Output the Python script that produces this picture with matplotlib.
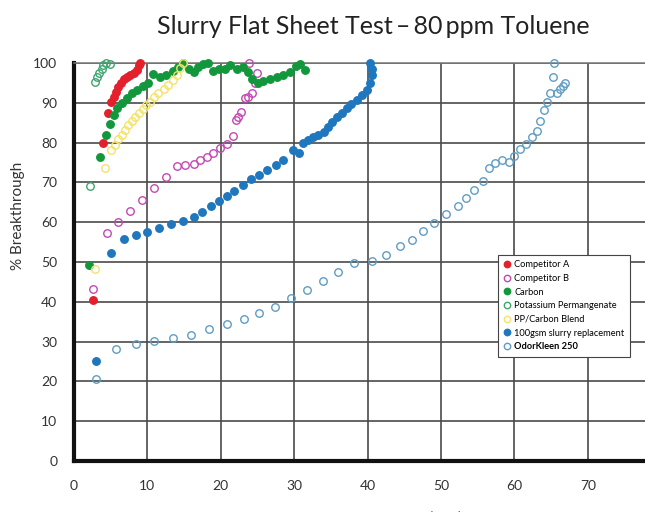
import matplotlib
matplotlib.use("Agg")
import matplotlib.pyplot as plt

plt.rcParams['font.family'] = ['Lato', 'DejaVu Sans']

# readings: x = time, y = % breakthrough
comp_a_x = [2.6, 4.0, 4.7, 5.0, 5.4, 5.7, 6.0, 6.4, 6.8, 7.2, 7.6, 8.2, 8.6, 8.9, 9.0]
comp_a_y = [40.4, 79.8, 87.4, 90.3, 91.5, 92.8, 93.9, 94.9, 95.9, 96.6, 97.0, 97.4, 98.2, 99.5, 100.0]

comp_b_x = [2.6, 4.45, 6.0, 7.6, 9.2, 10.9, 12.5, 14.1, 15.1, 16.3, 17.2, 18.1, 19.0, 19.9,
            20.8, 21.7, 22.1, 22.4, 22.8, 23.3, 23.7, 24.2, 24.7, 24.9, 23.9]
comp_b_y = [43.1, 57.3, 60.0, 62.8, 65.7, 68.7, 71.4, 74.2, 74.4, 74.6, 75.6, 76.5, 77.3, 78.6,
            79.6, 81.7, 85.7, 86.5, 87.8, 91.1, 91.5, 92.4, 94.9, 97.4, 99.9]

carbon_x = [2.1, 3.5, 4.4, 4.9, 5.4, 5.9, 6.5, 7.2, 7.9, 8.6, 9.4, 10.1, 10.8, 11.7, 12.6, 13.5,
            14.2, 14.9, 15.6, 16.3, 16.9, 17.6, 18.3, 19.0, 19.8, 20.6, 21.3, 22.2, 23.0, 23.7,
            24.3, 25.0, 25.8, 26.7, 27.6, 28.5, 29.4, 30.3, 30.8, 31.5]
carbon_y = [49.2, 76.5, 81.9, 84.7, 86.9, 88.6, 89.9, 91.1, 92.4, 93.2, 94.1, 94.9, 97.2, 96.4,
            97.0, 98.1, 99.1, 100.0, 98.4, 97.8, 99.1, 99.7, 100.0, 98.1, 98.5, 98.5, 99.4, 98.5,
            99.0, 97.8, 96.1, 94.9, 95.6, 95.9, 96.4, 97.0, 97.8, 99.2, 99.7, 98.2]

kmno4_x = [2.2, 2.9, 3.2, 3.45, 3.8, 4.0, 4.35, 4.9]
kmno4_y = [69.1, 95.3, 96.4, 97.4, 98.4, 99.5, 100.0, 99.7]

blend_x = [2.9, 4.2, 5.1, 5.6, 6.0, 6.5, 6.9, 7.4, 7.9, 8.3, 8.9, 9.4, 9.8, 10.4, 10.9, 11.5,
           12.2, 12.8, 13.5, 14.1, 14.5, 14.8]
blend_y = [48.2, 73.5, 78.1, 79.4, 80.8, 81.9, 83.2, 84.4, 85.4, 86.5, 87.4, 88.4, 89.4, 90.3,
           91.4, 92.4, 93.4, 94.5, 95.7, 97.0, 98.7, 100.0]

slurry_x = [2.95, 5.1, 6.8, 8.45, 10.0, 11.6, 13.2, 14.8, 16.4, 17.5, 18.6, 19.7, 20.8, 21.8,
            23.0, 24.1, 25.2, 26.3, 27.5, 28.5, 29.9, 30.6, 31.2, 31.9, 32.6, 33.3, 34.0, 34.6,
            35.2, 35.8, 36.5, 37.2, 37.8, 38.5, 39.2, 39.9, 40.3, 40.6, 40.6, 40.3]
slurry_y = [25.1, 52.3, 55.7, 56.8, 57.6, 58.5, 59.5, 60.4, 61.4, 62.6, 64.1, 65.3, 66.6, 67.9,
            69.3, 70.8, 71.9, 73.1, 74.4, 75.6, 78.1, 77.5, 79.8, 80.7, 81.3, 81.9, 82.7, 83.8,
            85.2, 86.5, 87.5, 88.6, 89.8, 90.8, 91.9, 93.3, 94.9, 96.9, 98.6, 100.0]

odor_x = [3.0, 5.7, 8.4, 10.9, 13.5, 16.0, 18.4, 20.8, 23.2, 25.2, 27.4, 29.5, 31.7, 33.9, 36.0,
          38.2, 40.6, 42.5, 44.4, 46.0, 47.5, 49.0, 50.7, 52.3, 53.4, 54.5, 55.7, 56.6, 57.4,
          58.3, 59.3, 59.9, 60.8, 61.6, 62.4, 63.1, 63.5, 64.0, 64.4, 64.9, 65.3, 65.4, 65.8,
          66.2, 66.6, 66.9]
odor_y = [20.5, 28.2, 29.3, 30.2, 31.0, 31.6, 33.1, 34.4, 35.7, 37.1, 38.6, 40.9, 43.0, 45.2,
          47.4, 49.7, 50.3, 51.8, 54.1, 55.6, 57.9, 59.9, 62.1, 64.0, 66.0, 68.2, 70.4, 73.5,
          74.8, 75.6, 75.2, 76.6, 78.3, 79.6, 81.3, 83.0, 85.5, 88.2, 90.3, 92.5, 96.5, 100.0,
          92.4, 93.4, 94.2, 94.9]

x_ticks = [0, 10, 20, 30, 40, 50, 60, 70]
y_ticks = [0, 10, 20, 30, 40, 50, 60, 70, 80, 90, 100]

fig = plt.figure(figsize=(6.45, 5.12), dpi=100)
ax = fig.add_axes([74 / 645, 51 / 512, 1 - 74 / 645, 398 / 512])

# (x, y, label, colour, filled)
series = [
    (comp_a_x, comp_a_y, 'Competitor A', '#e3202c', True),
    (comp_b_x, comp_b_y, 'Competitor B', '#c447b4', False),
    (carbon_x, carbon_y, 'Carbon', '#13973c', True),
    (kmno4_x, kmno4_y, 'Potassium Permangenate', '#3fa56f', False),
    (blend_x, blend_y, 'PP/Carbon Blend', '#f3e36a', False),
    (slurry_x, slurry_y, '100gsm slurry replacement', '#1f77bd', True),
    (odor_x, odor_y, 'OdorKleen 250', '#5f9cc4', False),
]
for xs, ys, lab, col, filled in series:
    ax.plot(xs, ys, 'o', ms=5.4, mec=col, mfc=col if filled else 'none',
            mew=1.0, label=lab, clip_on=False, zorder=3)

ax.set_xlim(0, (645 - 74) / 7.34)
ax.set_ylim(0, 100)
ax.set_xticks(x_ticks)
ax.set_yticks(y_ticks)
ax.grid(True, color='#4a4a4a', lw=1.2)
ax.set_axisbelow(True)
ax.tick_params(length=0, labelsize=10, labelcolor='#333333')
ax.tick_params(axis='x', pad=14)
ax.tick_params(axis='y', pad=12)
for s in ['left', 'bottom']:
    ax.spines[s].set_linewidth(3)
    ax.spines[s].set_color('#111111')
ax.spines['top'].set_color('#777777')
ax.spines['top'].set_linewidth(1.1)
ax.spines['right'].set_visible(False)

fig.text(373 / 645, 1 - 26 / 512, 'Slurry Flat Sheet Test\u2009\u2013\u200980\u2009ppm Toluene',
         ha='center', va='center', fontsize=18, color='#222222')
fig.text(18 / 645, 1 - 216 / 512, '% Breakthrough', rotation=90, ha='center', va='center',
         fontsize=11, color='#333333')
fig.text(370 / 645, -6 / 512, 'Time to Breakthrough (min)', ha='center', va='center',
         fontsize=11, color='#333333')

leg = ax.legend(loc='upper left', bbox_to_anchor=(493 / 645, 1 - 250 / 512),
                bbox_transform=fig.transFigure, fontsize=6.7, frameon=True, fancybox=False,
                edgecolor='#444444', framealpha=1, handletextpad=0.3, borderpad=0.6,
                labelspacing=0.5, handlelength=0.9, markerscale=0.85)
leg.get_frame().set_linewidth(0.8)
leg.get_texts()[-1].set_fontweight('bold')

fig.savefig('out.png', dpi=100)
